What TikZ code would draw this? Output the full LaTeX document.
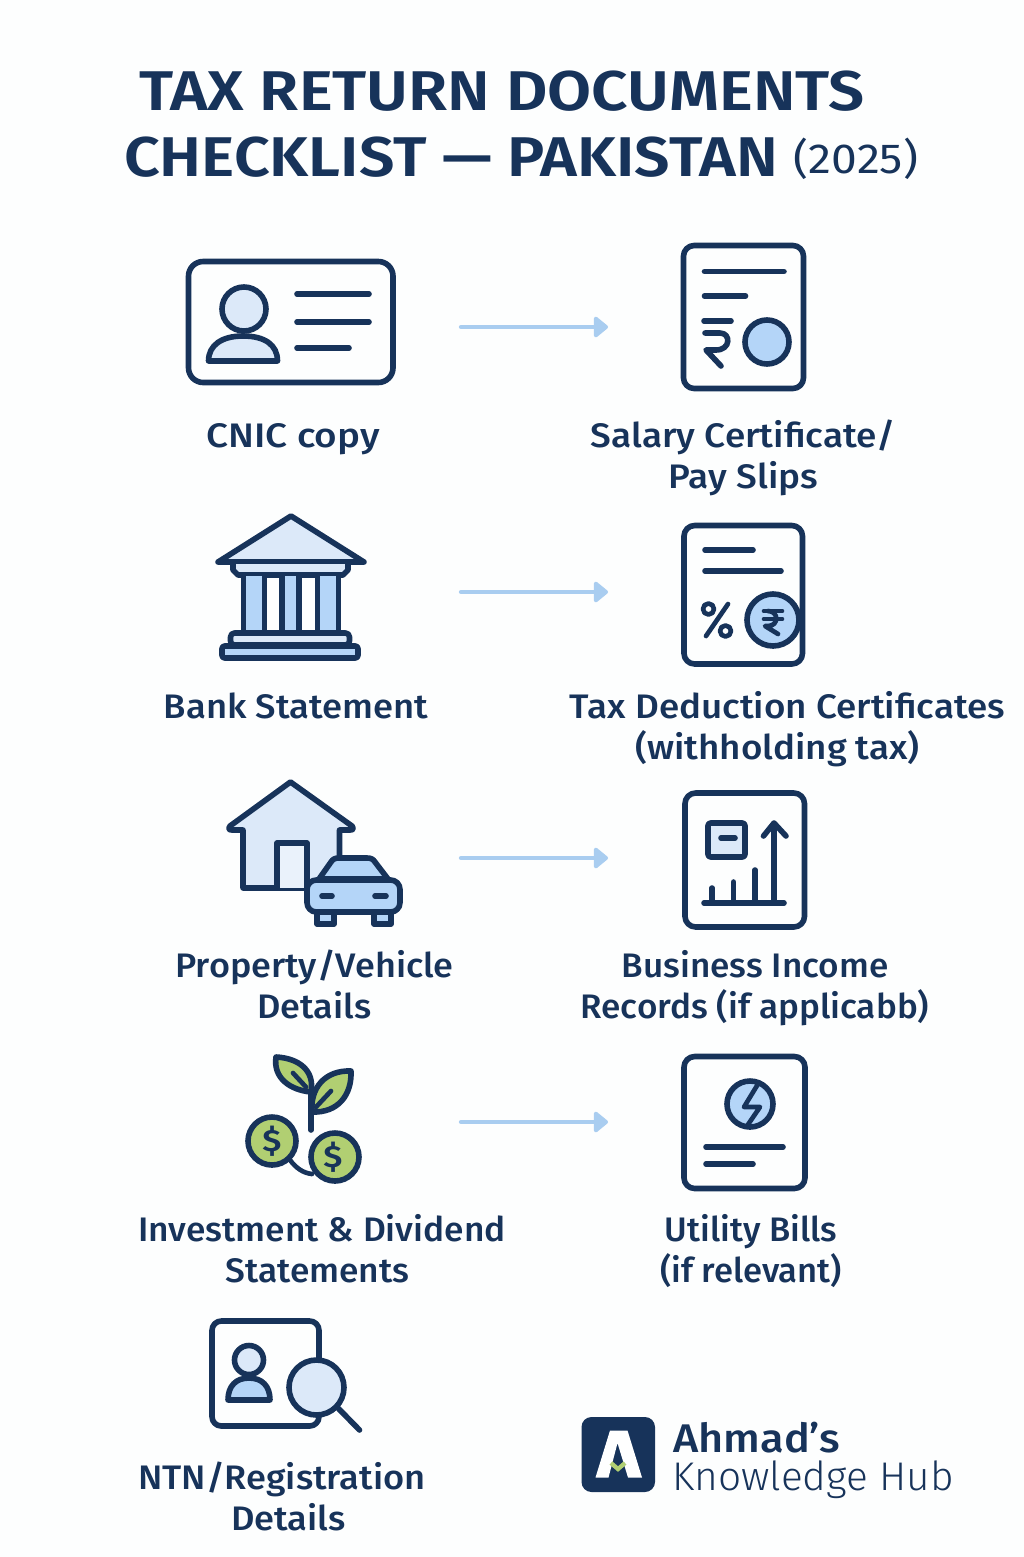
\documentclass[tikz,border=0pt]{standalone}
\usepackage{fontspec}
\setmainfont{Fira Sans}[UprightFont=* Medium,FakeStretch=1.082]
\newfontfamily\titlefont{Fira Sans}[UprightFont=* SemiBold,FakeStretch=1.14]
\newfontfamily\yearfont{Fira Sans}[FakeStretch=1.1]
\newfontfamily\logolight{Fira Sans}[UprightFont=* Light,FakeStretch=1.015]
\usetikzlibrary{arrows.meta}
\definecolor{navy}{HTML}{17335A}
\definecolor{pale}{HTML}{DCE9F9}
\definecolor{sky}{HTML}{B4D5F8}
\definecolor{flow}{HTML}{A9CDF0}
\definecolor{leaf}{HTML}{B1CF72}
\definecolor{paper}{HTML}{FDFEFE}
\tikzset{
  x=0.75pt,y=-0.75pt,
  ic/.style={draw=navy,line width=4.2pt,line join=round,line cap=round},
  thin ic/.style={draw=navy,line width=3.5pt,line join=round,line cap=round},
  flowline/.style={draw=flow,line width=3.2pt,line cap=round,-{Triangle[length=11.5pt,width=18pt,round]}},
  fitx/.style={xscale=#1,transform shape},
  lab/.style={anchor=base,inner sep=0pt,text=navy,align=center,font=\fontsize{25.5pt}{30.75pt}\selectfont},
  head/.style={anchor=base,inner sep=0pt,text=navy,font=\titlefont\fontsize{42pt}{50pt}\selectfont},
  glyph/.style={inner sep=0pt,text=navy,font=\titlefont\fontsize{23pt}{27pt}\selectfont},
}
\begin{document}
\begin{tikzpicture}
\useasboundingbox (0,0) rectangle (1024,1557);
\fill[paper] (0,0) rectangle (1024,1557);

% title
\node[head] (t1) at (502,110) {TAX RETURN DOCUMENTS};
\node[head,fitx=0.982] (t2) at (451,176) {CHECKLIST — PAKISTAN};
\node[anchor=base,inner sep=0pt,text=navy,font=\yearfont\fontsize{31.5pt}{34pt}\selectfont] (t3) at (856,173) {(2025)};

% CNIC card
\draw[ic,rounded corners=11pt] (188.5,261.5) rectangle (393,382.5);
\draw[ic,fill=pale] (244,309) circle[radius=22];
\draw[ic,fill=pale] (208.5,361) .. controls (208.5,345) and (222,336) .. (243,336) .. controls (265,336) and (277.5,345) .. (277.5,361) -- cycle;
\draw[ic] (297,294) -- (369,294) (297,322) -- (369,322) (297,348) -- (349,348);

% salary doc
\draw[ic,rounded corners=8pt] (683.5,245.5) rectangle (803.5,388.5);
\draw[ic] (704.5,271.5) -- (784,271.5) (704.5,296) -- (745.5,296);
\draw[ic,fill=sky] (767,342) circle[radius=22];
\draw[ic] (704,321) -- (731,321);
\draw[ic] (705,333) -- (720,333) .. controls (731,333) and (731,350) .. (716,350) -- (706,350) -- (721,366);

% bank
\draw[ic,fill=pale] (291,516) -- (364,562) -- (218,562) -- cycle;
\draw[ic,fill=pale] (233,564) -- (233,570) -- (238,575) -- (343,575) -- (348,570) -- (348,564);
\fill[sky] (243.5,576) rectangle (264.5,632) (282,576) rectangle (299,632) (317.5,576) rectangle (338.5,632);
\draw[ic] (243.5,576) -- (243.5,632) (264.5,576) -- (264.5,632) (282,576) -- (282,632) (299,576) -- (299,632) (317.5,576) -- (317.5,632) (338.5,576) -- (338.5,632);
\draw[ic,fill=pale,rounded corners=3pt] (230.5,645) -- (230.5,633) -- (349.5,633) -- (349.5,645) -- cycle;
\draw[ic,fill=sky,rounded corners=2pt] (222,646) rectangle (358,658);

% tax doc
\draw[ic,rounded corners=8pt] (684,525.5) rectangle (802.5,664);
\draw[ic] (705,550) -- (753,550) (705,571) -- (781,571);
\draw[thin ic] (728,604) -- (706,636);
\draw[thin ic] (708.5,609) circle[radius=5.5] (725.5,631) circle[radius=5.5];
\draw[ic,fill=sky] (773,620) circle[radius=26];
\draw[thin ic] (764,611) -- (782,611) (764,619) -- (782,619);
\draw[thin ic] (768,611) .. controls (779,611) and (779,626) .. (768,626) -- (765,626) -- (778,634);

% house and car
\draw[ic,fill=pale] (290.5,782) -- (352,826) .. controls (354,829) and (353,830) .. (350,830) -- (339.5,830) -- (339.5,888) -- (243,888) -- (243,830) -- (232,830) .. controls (229,830) and (228,829) .. (230,826) -- cycle;
\draw[ic,fill=pale!60!white] (277,888) -- (277,843) -- (307,843) -- (307,888);
\draw[ic,fill=sky] (319,879) -- (331,862) .. controls (333,859) and (335,858) .. (339,858) -- (367,858) .. controls (371,858) and (373,859) .. (375,862) -- (388,879) -- cycle;
\draw[ic,fill=sky] (317,914) -- (317,924) -- (334,924) -- (334,914) (374,914) -- (374,924) -- (391,924) -- (391,914);
\draw[ic,fill=sky,rounded corners=7pt] (307,880) rectangle (400,912);
\draw[ic] (322,896) -- (332,896) (375,896) -- (386,896);

% business doc
\draw[ic,rounded corners=8pt] (685,793) rectangle (804.5,927);
\draw[ic,fill=pale,rounded corners=2pt] (708,823) rectangle (745,857);
\draw[ic] (721,838) -- (735,838);
\draw[ic] (774,903) -- (774,823) (763.5,836) -- (774,823) -- (786,836);
\draw[ic] (704,903) -- (784,903) (712,903) -- (712,888) (733.5,903) -- (733.5,882) (755,903) -- (755,870);

% investment
\draw[ic,fill=leaf] (276,1057) .. controls (298,1058) and (315,1070) .. (311,1092) .. controls (290,1090) and (273,1078) .. (276,1057) -- cycle;
\draw[ic,fill=leaf] (351,1071) .. controls (352,1095) and (338,1113) .. (312,1112) .. controls (310,1088) and (325,1070) .. (351,1071) -- cycle;
\draw[thin ic] (293,1073) -- (306,1087) (331,1091) -- (316,1107);
\draw[ic] (311,1093) -- (311,1130);
\draw[thin ic] (290,1160) .. controls (296,1168) and (303,1173) .. (312,1174);
\draw[ic,fill=leaf] (272,1141) circle[radius=24];
\draw[ic,fill=leaf] (335,1157) circle[radius=24];
\node[glyph] (d1) at (272,1141) {\$};
\node[glyph] (d2) at (333,1157) {\$};

% utility doc
\draw[ic,rounded corners=8pt] (684,1056.5) rectangle (805,1188.5);
\draw[ic,fill=sky] (750,1104) circle[radius=23];
\draw[thin ic] (758,1084) -- (744,1107) -- (760,1107) -- (747,1126);
\draw[ic] (706,1147) -- (783,1147) (706,1164) -- (753,1164);

% NTN
\draw[ic,rounded corners=7pt] (212,1321) rectangle (319,1426);
\draw[ic,fill=pale] (249,1360) circle[radius=14.5];
\draw[ic,fill=sky] (228,1400) .. controls (228,1386) and (236,1378) .. (249,1378) .. controls (262,1378) and (270,1386) .. (270,1400) -- cycle;
\draw[ic] (338,1408) -- (359.5,1430);
\draw[ic,fill=pale] (316.5,1387.5) circle[radius=27.5];

% logo
\fill[navy,rounded corners=7.5pt] (581.5,1417) rectangle (655,1492);
\fill[white] (610,1430.5) -- (627.5,1430.5) -- (642,1477.5) -- (628,1477.5) -- (617.5,1443) -- (608.5,1477.5) -- (595.5,1477.5) -- cycle;
\draw[leaf,line width=3.2pt] (611,1463) -- (618,1469) -- (625,1463);
\node[anchor=base west,inner sep=0pt,text=navy,font=\fontsize{30pt}{36pt}\selectfont] (l1) at (673,1452) {Ahmad’s};
\node[anchor=base west,inner sep=0pt,text=navy,font=\logolight\fontsize{30pt}{36pt}\selectfont] (l2) at (672,1490) {Knowledge Hub};

% labels (the base of a two-line node is its last line)
\node[lab,fitx=1.05] (a1) at (293,447) {CNIC copy};
\node[lab,fitx=1.005] (b1) at (743.5,488) {Salary Certificate/\\Pay Slips};
\node[lab,fitx=0.99] (a2) at (296,718) {Bank Statement};
\node[lab] (b2) at (787.5,759) {Tax Deduction Certificates\\\hspace*{-15pt}(withholding tax)};
\node[lab,fitx=0.98] (a3) at (314.5,1018) {Property/Vehicle\\Details};
\node[lab,fitx=0.955] (b3) at (755,1018) {Business Income\\Records (if applicabb)};
\node[lab,fitx=0.96] (a4) at (322,1282) {Investment \& Dividend\\\hspace*{-7pt}Statements};
\node[lab,fitx=0.94] (b4) at (751,1282) {Utility Bills\\(if relevant)};
\node[lab,fitx=0.985] (a5) at (282,1530) {NTN/Registration\\\hspace*{10pt}Details};

% connectors
\coordinate (s1) at (461,327); \coordinate (e1) at (608,327);
\coordinate (s2) at (461,592); \coordinate (e2) at (608,592);
\coordinate (s3) at (461,858); \coordinate (e3) at (608,858);
\coordinate (s4) at (461,1122); \coordinate (e4) at (608,1122);
\draw[flowline] (s1) -- (e1);
\draw[flowline] (s2) -- (e2);
\draw[flowline] (s3) -- (e3);
\draw[flowline] (s4) -- (e4);
\end{tikzpicture}
\end{document}
